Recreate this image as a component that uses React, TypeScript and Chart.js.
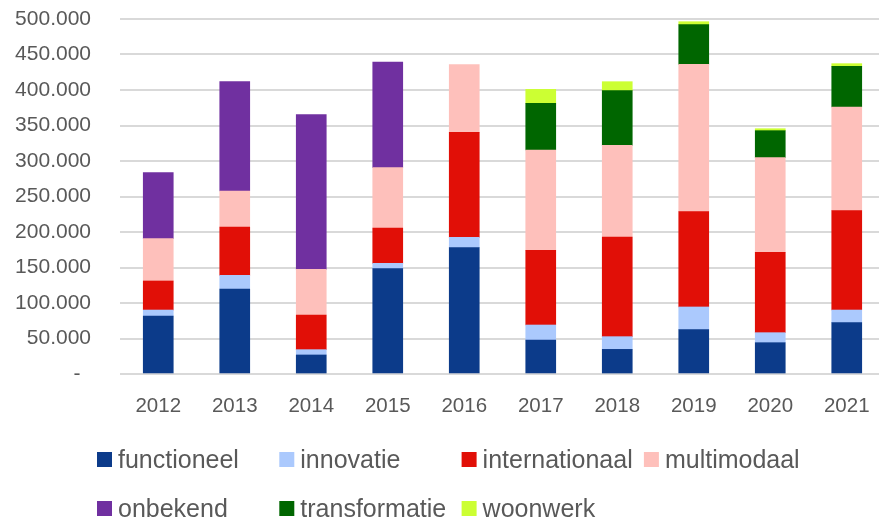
import React, { useEffect, useRef } from 'react';
import { Chart, registerables } from 'chart.js';

Chart.register(...registerables);

const years = ['2012', '2013', '2014', '2015', '2016', '2017', '2018', '2019', '2020', '2021'];
const functioneel = [81700, 119700, 26800, 148400, 177900, 47900, 34700, 62400, 44100, 72300];
const innovatie = [8400, 19300, 7500, 7500, 14600, 21100, 17900, 32000, 14100, 17800];
const internationaal = [40900, 68000, 48800, 49700, 147900, 105200, 140400, 134200, 113200, 139900];
const multimodaal = [59600, 50700, 64300, 85000, 95300, 141300, 129100, 207600, 133300, 146100];
const onbekend = [93000, 154000, 217900, 148800, null, null, null, null, null, null];
const transformatie = [null, null, null, null, null, 65700, 77000, 55800, 38000, 57200];
const woonwerk = [null, null, null, null, null, 19700, 12600, 4200, 2800, 3800];

const seriesNames = ['functioneel', 'innovatie', 'internationaal', 'multimodaal', 'onbekend', 'transformatie', 'woonwerk'];
const seriesColors = ['#0c3b8a', '#abc9fd', '#e10f07', '#fec0bb', '#7030a0', '#006600', '#ccff33'];
const seriesValues = [functioneel, innovatie, internationaal, multimodaal, onbekend, transformatie, woonwerk];

const yMax = 500000;
const yStep = 50000;

const TEXT = '#595959';
const FONT = '"Liberation Sans", Arial, sans-serif';

function formatNL(v: number): string {
  if (v === 0) return '-\u2002';
  const s = Math.round(v).toString();
  return s.replace(/\B(?=(\d{3})+(?!\d))/g, '.');
}

const gridLegend = {
  id: 'gridLegend',
  afterDraw(chart: any) {
    const ctx = chart.ctx as CanvasRenderingContext2D;
    ctx.save();
    ctx.font = `25px ${FONT}`;
    ctx.textAlign = 'left';
    ctx.textBaseline = 'alphabetic';
    chart.data.datasets.forEach((ds: any, i: number) => {
      const col = i % 4;
      const row = Math.floor(i / 4);
      const x = 97 + col * 182.3;
      const top = 452 + row * 49;
      ctx.fillStyle = ds.backgroundColor;
      ctx.fillRect(x, top, 15, 15);
      ctx.fillStyle = TEXT;
      ctx.fillText(ds.label, x + 21, top + 16);
    });
    ctx.restore();
  },
};

export default function App() {
  const ref = useRef<HTMLCanvasElement>(null);

  useEffect(() => {
    if (!ref.current) return;
    const chart = new Chart(ref.current, {
      type: 'bar',
      data: {
        labels: years,
        datasets: seriesNames.map((name, i) => ({
          label: name,
          data: seriesValues[i],
          backgroundColor: seriesColors[i],
          borderWidth: 0,
          barThickness: 30,
        })),
      },
      options: {
        responsive: false,
        animation: false,
        layout: { padding: { top: 19, left: 15, right: 1, bottom: 0 } },
        plugins: {
          legend: { display: false },
          tooltip: { enabled: false },
        },
        scales: {
          x: {
            stacked: true,
            grid: { display: false },
            border: { display: false },
            ticks: {
              color: TEXT,
              font: { family: FONT, size: 20.5 },
              padding: 12,
              maxRotation: 0,
            },
            afterFit(scale: any) {
              scale.height = 145;
            },
          },
          y: {
            stacked: true,
            min: 0,
            max: yMax,
            border: { display: false },
            grid: {
              color: '#d9d9d9',
              lineWidth: 2,
              drawTicks: true,
              tickLength: 29,
              tickColor: 'rgba(0,0,0,0)',
            },
            ticks: {
              stepSize: yStep,
              color: TEXT,
              font: { family: FONT, size: 21 },
              padding: 0,
              callback: (v: any) => formatNL(Number(v)),
            },
            afterFit(scale: any) {
              scale.width = 105;
            },
          },
        },
      },
      plugins: [gridLegend],
    });
    return () => chart.destroy();
  }, []);

  return (
    <div style={{ position: 'fixed', left: 0, top: 0, width: 879, height: 519, overflow: 'hidden', background: '#fff' }}>
      <canvas ref={ref} width={886} height={519} style={{ display: 'block' }} />
    </div>
  );
}
